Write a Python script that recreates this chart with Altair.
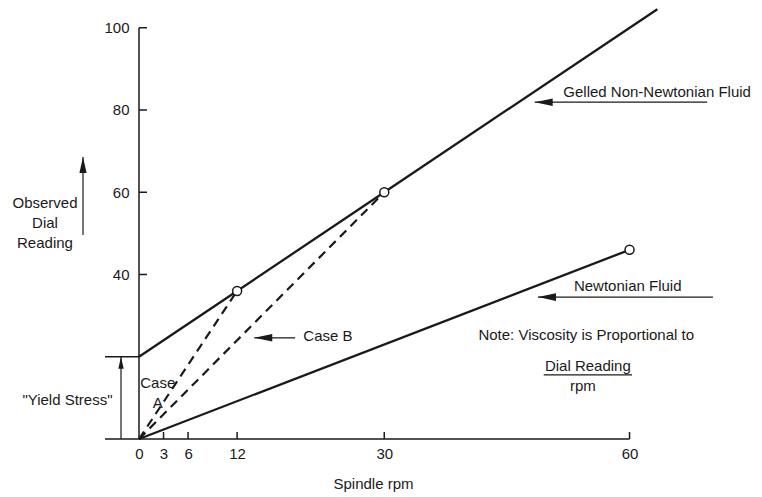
import altair as alt
import pandas as pd

FONT = "Liberation Sans, Arial, sans-serif"
INK = "#1a1a1a"
FS = 15

# ---- axis ticks -------------------------------------------------------
x_tick_labels = [0, 3, 6, 12, 30, 60]
x_tick_marks = [3, 6, 12, 30, 60]
y_tick_labels = [40, 60, 80, 100]
y_tick_marks = [40, 60, 80, 100]
x_axis_end = 60
y_axis_end = 100

# ---- curves -------------------------------------------------------------
gelled_rpm = [0, 12, 30, 63.4]
gelled_reading = [20, 36, 60, 104.5]
newtonian_rpm = [0, 60]
newtonian_reading = [0, 46]
case_a_rpm = [0, 12]
case_a_reading = [0, 36]
case_b_rpm = [0, 30]
case_b_reading = [0, 60]
point_rpm = [12, 30, 60]
point_reading = [36, 60, 46]
yield_stress = 20

# ---- annotation arrows (data coords) -----------------------------------
arrow_x = [-2.2, -6.85, 48.4, 48.8, 14.1]
arrow_x2 = [-2.2, -6.85, 69.5, 70.2, 19.1]
arrow_y = [0, 49.6, 81.9, 34.5, 24.6]
arrow_y2 = [20, 68.6, 81.9, 34.5, 24.6]
bracket_x = [-4.16, -4.16]
bracket_y = [0, 20]
fraction_x = [49.5, 60.3]
fraction_y = 15.6

# ---- annotation texts ---------------------------------------------------
texts = [
    ("Gelled Non-Newtonian Fluid", 51.9, 83.2, "left", "alphabetic"),
    ("Newtonian Fluid", 53.2, 36.0, "left", "alphabetic"),
    ("Case B", 20.1, 25.0, "left", "middle"),
    ("Note: Viscosity is Proportional to", 54.7, 25.3, "center", "middle"),
    ("Dial Reading", 54.9, 17.7, "center", "middle"),
    ("rpm", 54.3, 12.9, "center", "middle"),
    ("\"Yield Stress\"", -8.75, 9.5, "center", "middle"),
    ("Case\nA", 2.3, 13.5, "center", "middle"),
    ("Observed\nDial\nReading", -11.5, 57.4, "center", "middle"),
]

X_DOMAIN = [0, 74]
Y_DOMAIN = [0, 104.8]

xscale = alt.Scale(domain=X_DOMAIN, nice=False, zero=False)
yscale = alt.Scale(domain=Y_DOMAIN, nice=False, zero=False)
xaxis = alt.Axis(values=x_tick_labels, format="d", title="Spindle rpm",
                 labelPadding=7, titleX=234, titleY=44, titleBaseline="middle",
                 titleAlign="center", labelOverlap=False, labelFlush=False)
yaxis = alt.Axis(values=y_tick_labels, format="d", title=None,
                 labelPadding=10, labelOverlap=False, labelFlush=False)


def X(f="x"):
    return alt.X(f + ":Q", scale=xscale, axis=xaxis)


def Y(f="y"):
    return alt.Y(f + ":Q", scale=yscale, axis=yaxis)


# curves
solid = pd.DataFrame({
    "s": ["gelled"] * len(gelled_rpm) + ["newton"] * len(newtonian_rpm),
    "x": gelled_rpm + newtonian_rpm,
    "y": gelled_reading + newtonian_reading,
})
dashed = pd.DataFrame({
    "s": ["A"] * len(case_a_rpm) + ["B"] * len(case_b_rpm),
    "x": case_a_rpm + case_b_rpm,
    "y": case_a_reading + case_b_reading,
})

solid_layer = alt.Chart(solid).mark_line(color=INK, strokeWidth=2.3).encode(
    x=X(), y=Y(), detail="s:N")
dashed_layer = alt.Chart(dashed).mark_line(color=INK, strokeWidth=2.2,
                                           strokeDash=[9, 6]).encode(
    x=X(), y=Y(), detail="s:N")

points = pd.DataFrame({"x": point_rpm, "y": point_reading})
point_layer = alt.Chart(points).mark_point(
    shape="circle", filled=True, fill="white", stroke=INK, strokeWidth=1.5,
    size=81, opacity=1).encode(x=X(), y=Y())

# axes lines
axes_df = pd.DataFrame({
    "x": [0, 0] + bracket_x,
    "x2": [x_axis_end, 0, 0, 0],
    "y": [0, 0] + bracket_y,
    "y2": [0, y_axis_end] + bracket_y,
})
axes_layer = alt.Chart(axes_df).mark_rule(color=INK, strokeWidth=1.5).encode(
    x=X(), x2="x2:Q", y=Y(), y2="y2:Q")

xt = pd.DataFrame({"x": x_tick_marks, "y": [0] * len(x_tick_marks)})
xt["y2"] = xt["y"]
xtick_layer = alt.Chart(xt).mark_rule(color=INK, strokeWidth=1.5,
                                      y2Offset=-7).encode(
    x=X(), y=Y(), y2="y2:Q")

yt = pd.DataFrame({"y": y_tick_marks, "x": [0] * len(y_tick_marks)})
yt["x2"] = yt["x"]
ytick_layer = alt.Chart(yt).mark_rule(color=INK, strokeWidth=1.5,
                                      x2Offset=8).encode(
    x=X(), x2="x2:Q", y=Y())

# arrows
arr = pd.DataFrame({"x": arrow_x, "x2": arrow_x2, "y": arrow_y, "y2": arrow_y2})
frac = pd.DataFrame({"x": [fraction_x[0]], "x2": [fraction_x[1]],
                     "y": [fraction_y], "y2": [fraction_y]})
arrow_lines = alt.Chart(pd.concat([arr, frac])).mark_rule(
    color=INK, strokeWidth=1.2).encode(x=X(), x2="x2:Q", y=Y(), y2="y2:Q")

left_heads = pd.DataFrame({"x": arrow_x[2:], "y": arrow_y[2:]})
left_head_layer = alt.Chart(left_heads).mark_point(
    shape="M0,0L2,-0.42L2,0.42Z", filled=True, color=INK, opacity=1,
    size=324).encode(x=X(), y=Y())

up_big = pd.DataFrame({"x": [arrow_x2[1]], "y": [arrow_y2[1]]})
up_big_layer = alt.Chart(up_big).mark_point(
    shape="M0,0L0.45,2L-0.45,2Z", filled=True, color=INK, opacity=1,
    size=256).encode(x=X(), y=Y())
up_small = pd.DataFrame({"x": [arrow_x2[0]], "y": [arrow_y2[0]]})
up_small_layer = alt.Chart(up_small).mark_point(
    shape="M0,0L0.45,2L-0.45,2Z", filled=True, color=INK, opacity=1,
    size=144).encode(x=X(), y=Y())

text_layers = []
for t, tx, ty, al, bl in texts:
    d = pd.DataFrame({"x": [tx], "y": [ty], "t": [t]})
    text_layers.append(
        alt.Chart(d).mark_text(align=al, baseline=bl, font=FONT, fontSize=FS,
                               color=INK, lineBreak="\n", lineHeight=20).encode(
            x=X(), y=Y(), text="t:N"))

chart = alt.layer(
    axes_layer, xtick_layer, ytick_layer, arrow_lines,
    left_head_layer, up_big_layer, up_small_layer,
    solid_layer, dashed_layer, point_layer, *text_layers
).properties(
    width=605, height=431,
    autosize=alt.AutoSizeParams(type="none"),
    padding={"left": 131, "top": 0, "right": 10, "bottom": 58},
    background="white",
).configure_view(strokeWidth=0).configure_axis(
    domain=False, ticks=False, grid=False,
    labelFont=FONT, labelFontSize=FS, labelColor=INK,
    titleFont=FONT, titleFontSize=FS, titleColor=INK, titleFontWeight="normal",
)

chart.save("out.html", embed_options={"renderer": "svg", "actions": False})
